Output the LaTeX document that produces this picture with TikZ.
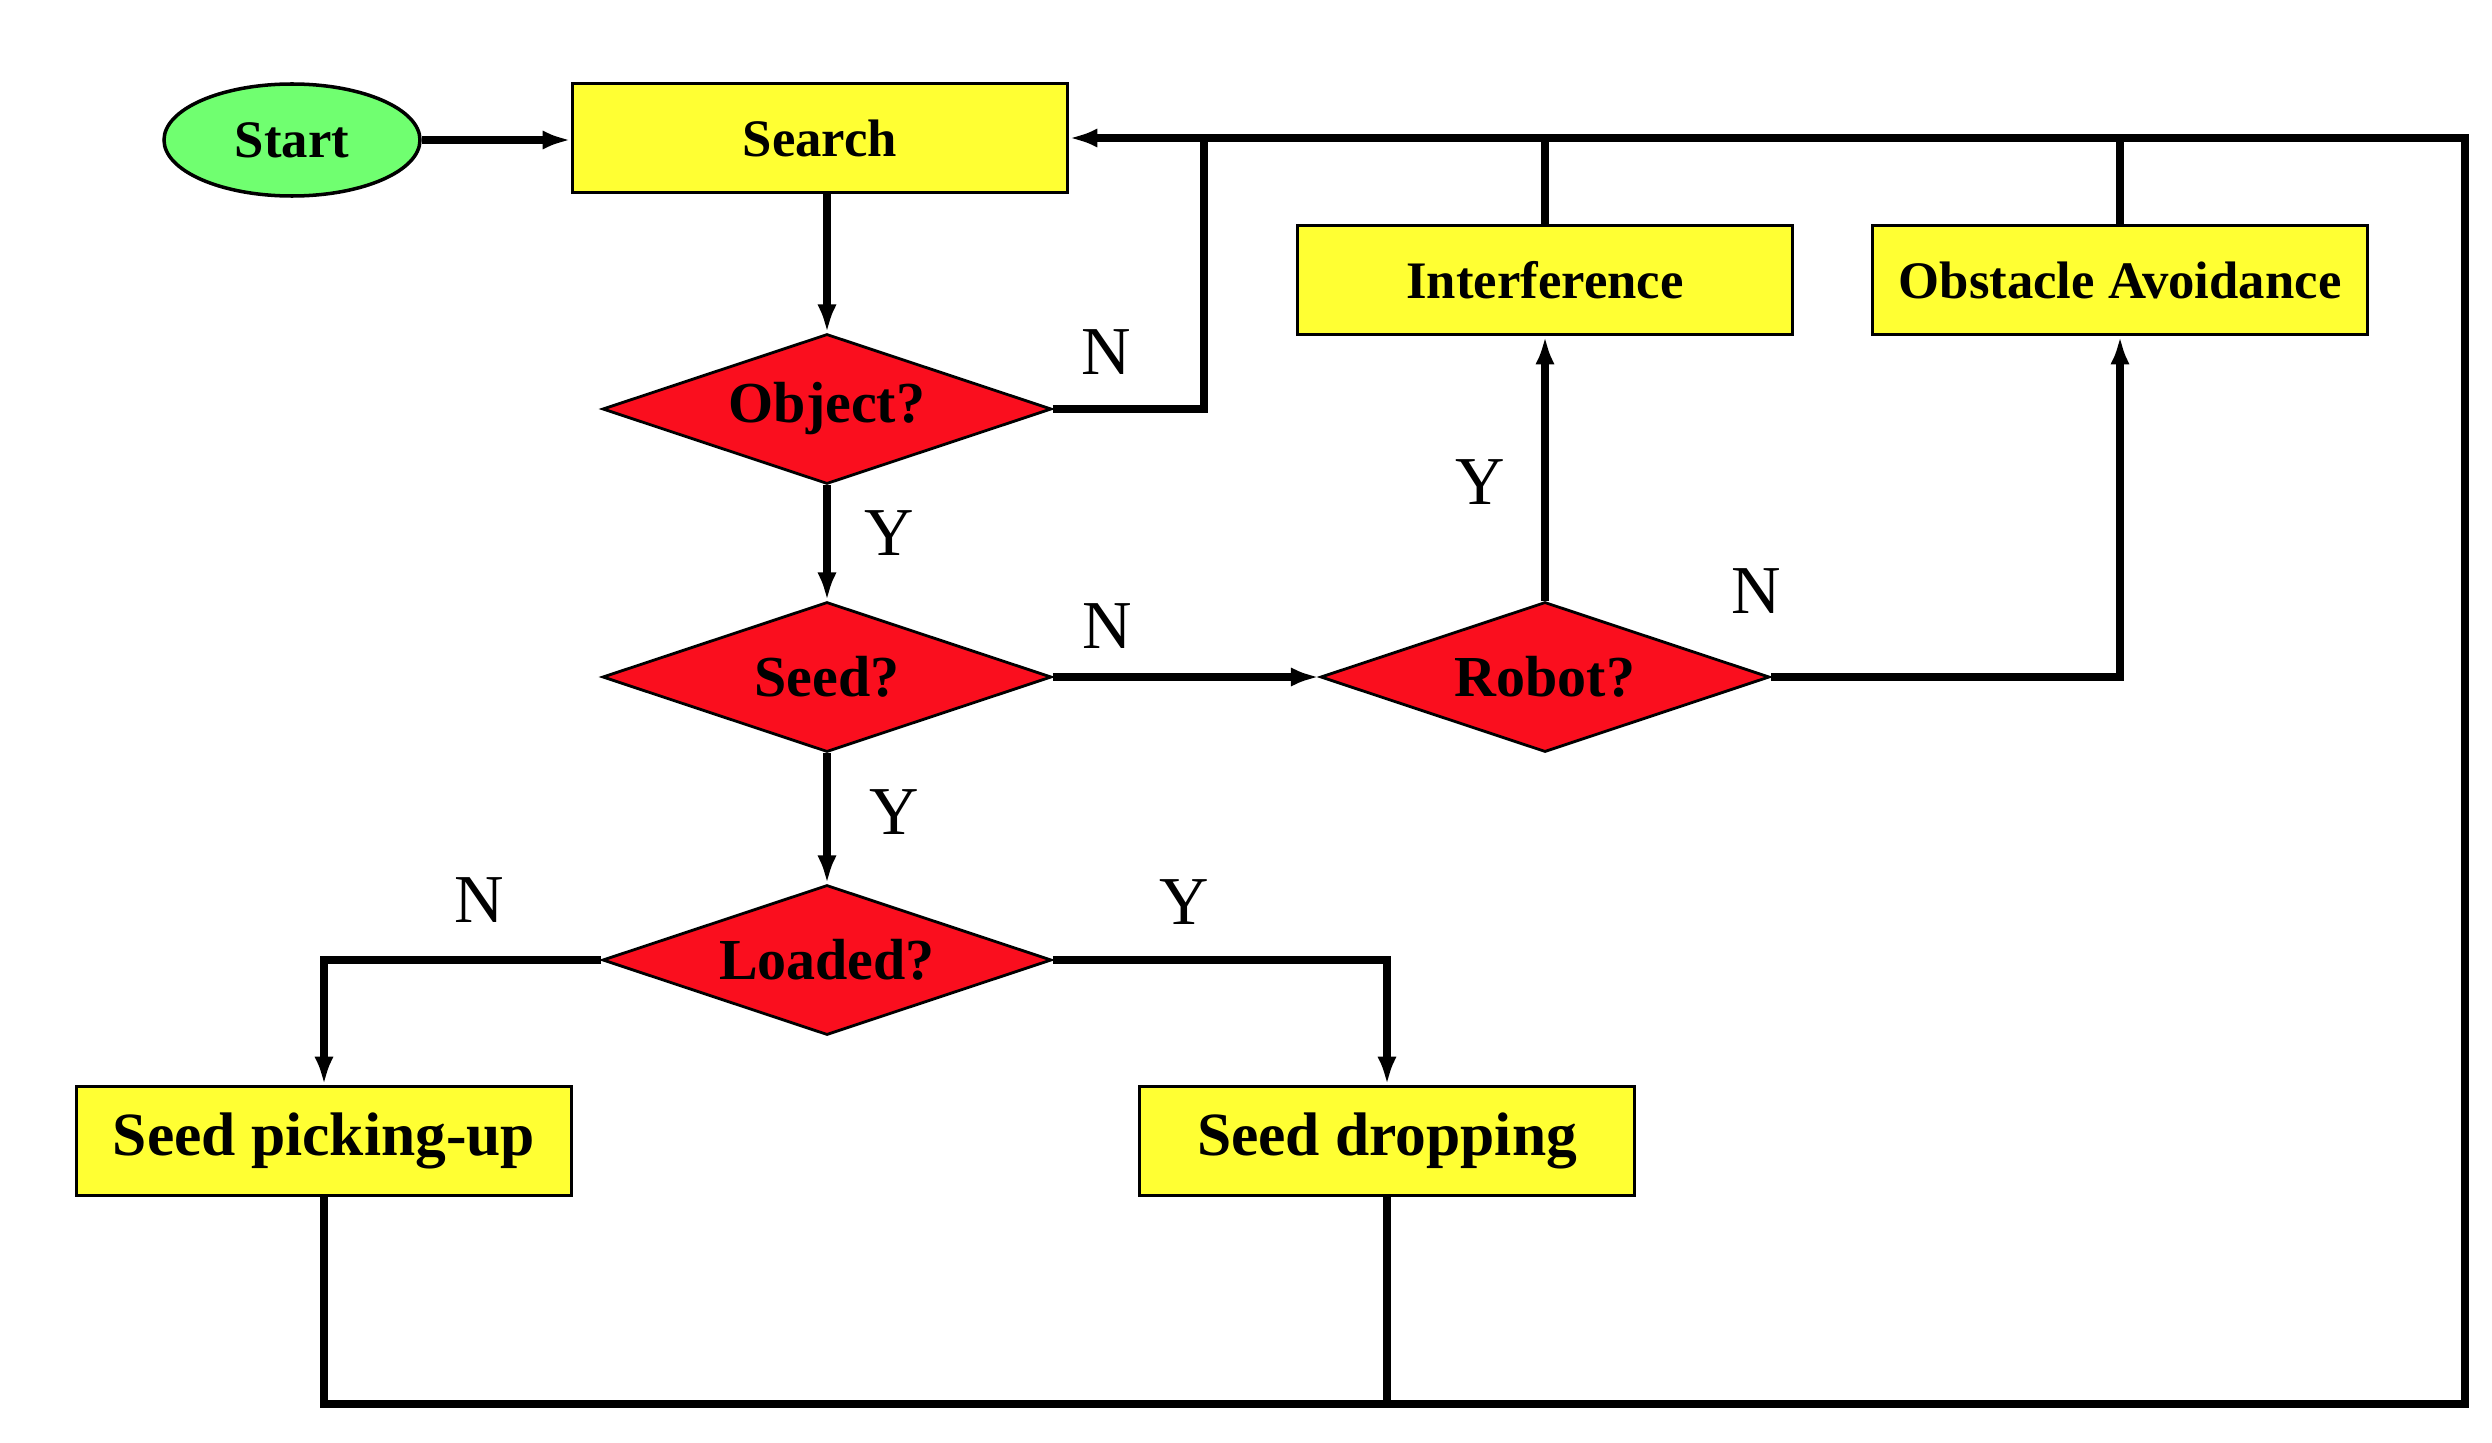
\documentclass[tikz,border=0pt]{standalone}
\usepackage{fontspec}
\setmainfont{Liberation Serif}
\usetikzlibrary{arrows.meta,positioning,shapes.geometric}
\definecolor{taskyellow}{RGB}{255,255,51}
\definecolor{startgreen}{RGB}{112,255,112}
\definecolor{askred}{RGB}{250,14,30}

\begin{document}
\begin{tikzpicture}[>={Latex[length=8pt,width=5.5pt]},
    flow/.style={line width=2.2pt},
    task/.style={draw,line width=1pt,fill=taskyellow,minimum width=4.95cm,minimum height=1.09cm,font=\fontsize{15}{17}\selectfont\bfseries},
    bigtask/.style={task,font=\fontsize{17.5}{20}\selectfont\bfseries},
    ask/.style={draw,diamond,aspect=3,line width=0.8pt,fill=askred,inner sep=0pt,minimum width=4.49cm,minimum height=1.5cm,font=\fontsize{16.5}{19}\selectfont\bfseries},
    yn/.style={font=\fontsize{19.5}{22}\selectfont}]
    \useasboundingbox (0,0) rectangle (24.92,14.42);
    \node[draw,ellipse,line width=1pt,fill=startgreen,minimum width=2.56cm,minimum height=1.12cm,font=\fontsize{15}{17}\selectfont\bfseries] (start) at (2.92,13.02) {Start};
    \node[task] (search) at (8.2,13.04) {Search};
    \node[ask] (object) at (8.27,10.33) {Object?};
    \node[ask] (seed) at (8.27,7.65) {Seed?};
    \node[ask] (robot) at (15.45,7.65) {Robot?};
    \node[ask] (loaded) at (8.27,4.82) {Loaded?};
    \node[task] (interf) at (15.45,11.62) {Interference};
    \node[task] (obstacle) at (21.2,11.62) {Obstacle Avoidance};
    \node[bigtask] (picking) at (3.24,3.01) {Seed picking-up};
    \node[bigtask] (dropping) at (13.87,3.01) {Seed dropping};
    \coordinate (loopin) at (12.04,13.04);
    \coordinate (topright) at (24.65,13.04);
    \coordinate (botright) at (24.65,0.38);
    \draw[flow,->] (start.east) -- (start.east -| search.west);
    \draw[flow,->] (search.south -| object.north) -- (object.north);
    \draw[flow,->] (object) -- (seed);
    \draw[flow,->] (seed) -- (loaded);
    \draw[flow,->] (object.east) -| (loopin) -- (search.east);
    \draw[flow] (loopin) -- (topright) -- (botright) -- (picking |- botright) -- (picking);
    \draw[flow] (dropping) -- (dropping |- botright);
    \draw[flow] (interf) -- (interf |- topright);
    \draw[flow] (obstacle) -- (obstacle |- topright);
    \draw[flow,->] (seed) -- (robot);
    \draw[flow,->] (robot) -- (interf);
    \draw[flow,->] (robot.east) -| (obstacle);
    \draw[flow,->] (loaded.west) -| (picking);
    \draw[flow,->] (loaded.east) -| (dropping);
    \node[yn] (objno) at (11.06,10.90) {N};
    \node[yn] (objyes) at (8.89,9.09) {Y};
    \node[yn] (seedno) at (11.07,8.16) {N};
    \node[yn] (seedyes) at (8.94,6.30) {Y};
    \node[yn] (robotyes) at (14.80,9.60) {Y};
    \node[yn] (robotno) at (17.56,8.51) {N};
    \node[yn] (loadno) at (4.79,5.42) {N};
    \node[yn] (loadyes) at (11.84,5.40) {Y};
\end{tikzpicture}
\end{document}
